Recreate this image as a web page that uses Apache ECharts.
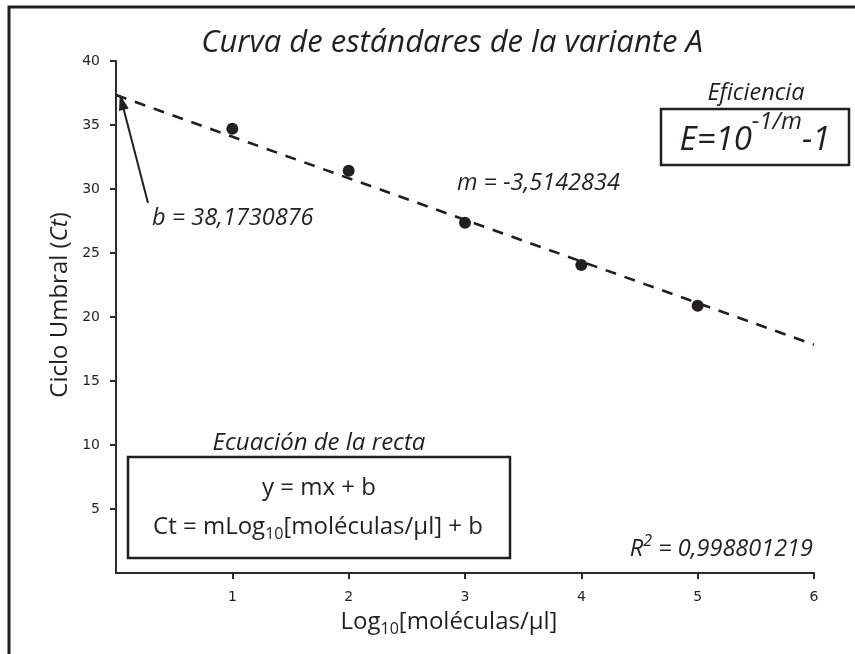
<!DOCTYPE html>
<html><head><meta charset="utf-8">
<script src="https://cdn.jsdelivr.net/npm/echarts@6/dist/echarts.min.js"></script>
<style>html,body{margin:0;padding:0;background:#fff}#c{width:855px;height:654px}</style>
</head><body><div id="c"></div>
<script>
// ---- data ----
const xValues = [1, 2, 3, 4, 5];
const ctValues = [34.71, 31.43, 27.37, 24.06, 20.88];
const trendX = [0, 6];
const trendY = [37.34, 17.84];
const arrowTail = [0.275, 28.9];
const arrowTip = [0.05, 36.8];
const xMin = 0, xMax = 6, xStep = 1;
const yMin = 0, yMax = 40, yStep = 5;

const INK = '#231f20';
const FONT = '"Open Sans", "Noto Sans", sans-serif';

const chart = echarts.init(document.getElementById('c'), null, {renderer: 'canvas'});

function txt(x, y, text, size, opts) {
  opts = opts || {};
  return {
    type: 'text', x: x, y: y, rotation: opts.rotation || 0, z: 100,
    style: {
      text: text, fontSize: size, fontFamily: FONT,
      fontStyle: opts.italic ? 'italic' : 'normal',
      fill: INK,
      align: opts.align || 'center', verticalAlign: 'middle',
      textAlign: opts.align || 'center', textVerticalAlign: 'middle',
      rich: opts.rich
    }
  };
}

const option = {
  backgroundColor: '#fff',
  animation: false,
  grid: {left: 116, right: 41, top: 61, bottom: 81, containLabel: false},
  xAxis: {
    type: 'value', min: xMin, max: xMax, interval: xStep,
    axisLine: {show: true, lineStyle: {color: '#2b2b2b', width: 2}},
    axisTick: {show: true, length: 6, lineStyle: {color: '#2b2b2b', width: 2}},
    splitLine: {show: false},
    axisLabel: {showMinLabel: false, margin: 17, fontSize: 14, fontFamily: '"DejaVu Sans", sans-serif', color: INK}
  },
  yAxis: {
    type: 'value', min: yMin, max: yMax, interval: yStep,
    axisLine: {show: true, lineStyle: {color: '#2b2b2b', width: 2}},
    axisTick: {show: true, length: 6, lineStyle: {color: '#2b2b2b', width: 2}},
    splitLine: {show: false},
    axisLabel: {showMinLabel: false, margin: 16, fontSize: 14, fontFamily: '"DejaVu Sans", sans-serif', color: INK}
  },
  series: [
    {
      type: 'line', name: 'trend',
      data: trendX.map((x, i) => [x, trendY[i]]),
      symbol: 'none', silent: true,
      lineStyle: {color: INK, width: 2.6, type: [11, 9]}
    },
    {
      type: 'scatter', name: 'Ct',
      data: xValues.map((x, i) => [x, ctValues[i]]),
      symbol: 'circle', symbolSize: 12,
      itemStyle: {color: INK, opacity: 1},
      markLine: {
        silent: true, symbol: ['none', 'triangle'], symbolSize: [10, 16],
        label: {show: false},
        lineStyle: {color: INK, width: 2, type: 'solid', opacity: 1},
        data: [[{coord: arrowTail}, {coord: arrowTip}]]
      }
    }
  ],
  graphic: [
    {type: 'rect', shape: {x: 9, y: 7, width: 900, height: 700}, style: {fill: 'none', stroke: INK, lineWidth: 3}, z: 100},
    txt(452, 43, 'Curva de estándares de la variante A', 31, {italic: true}),
    txt(60, 305, '{a|Ciclo Umbral (}{i|Ct}{a|)}', 24, {rotation: Math.PI / 2, rich: {
      a: {fontSize: 24, fontFamily: FONT, color: INK},
      i: {fontSize: 24, fontFamily: FONT, fontStyle: 'italic', color: INK}
    }}),
    txt(449, 622, '{a|Log}{s|10}{a|[moléculas/µl]}', 24, {rich: {
      a: {fontSize: 24, fontFamily: FONT, color: INK},
      s: {fontSize: 16, fontFamily: FONT, color: INK, padding: [15, 0, 0, 0]}
    }}),
    txt(152, 218, 'b = 38,1730876', 23.5, {italic: true, align: 'left'}),
    txt(457, 183, 'm = -3,5142834', 23.5, {italic: true, align: 'left'}),
    txt(756, 93, 'Eficiencia', 23.5, {italic: true}),
    {type: 'rect', shape: {x: 661, y: 109, width: 188, height: 56}, style: {fill: 'none', stroke: INK, lineWidth: 2.5}, z: 100},
    txt(755, 141, '{a|E=10}{p|-1/m}{a|-1}', 33, {rich: {
      a: {fontSize: 33, fontFamily: FONT, fontStyle: 'italic', color: INK},
      p: {fontSize: 24, fontFamily: FONT, fontStyle: 'italic', color: INK, padding: [0, 0, 37, 0]}
    }}),
    txt(319, 443, 'Ecuación de la recta', 24, {italic: true}),
    {type: 'rect', shape: {x: 128, y: 457, width: 382, height: 101}, style: {fill: 'none', stroke: INK, lineWidth: 2.5}, z: 100},
    txt(319, 488, 'y = mx + b', 24),
    txt(318, 527, '{a|Ct = mLog}{s|10}{a|[moléculas/µl] + b}', 24, {rich: {
      a: {fontSize: 24, fontFamily: FONT, color: INK},
      s: {fontSize: 16, fontFamily: FONT, color: INK, padding: [15, 0, 0, 0]}
    }}),
    txt(813, 549, '{a|R}{p|2}{a| = 0,998801219}', 23.5, {align: 'right', rich: {
      a: {fontSize: 23.5, fontFamily: FONT, fontStyle: 'italic', color: INK},
      p: {fontSize: 16, fontFamily: FONT, fontStyle: 'italic', color: INK, padding: [0, 0, 16, 0]}
    }})
  ]
};
chart.setOption(option);
</script>
</body></html>
